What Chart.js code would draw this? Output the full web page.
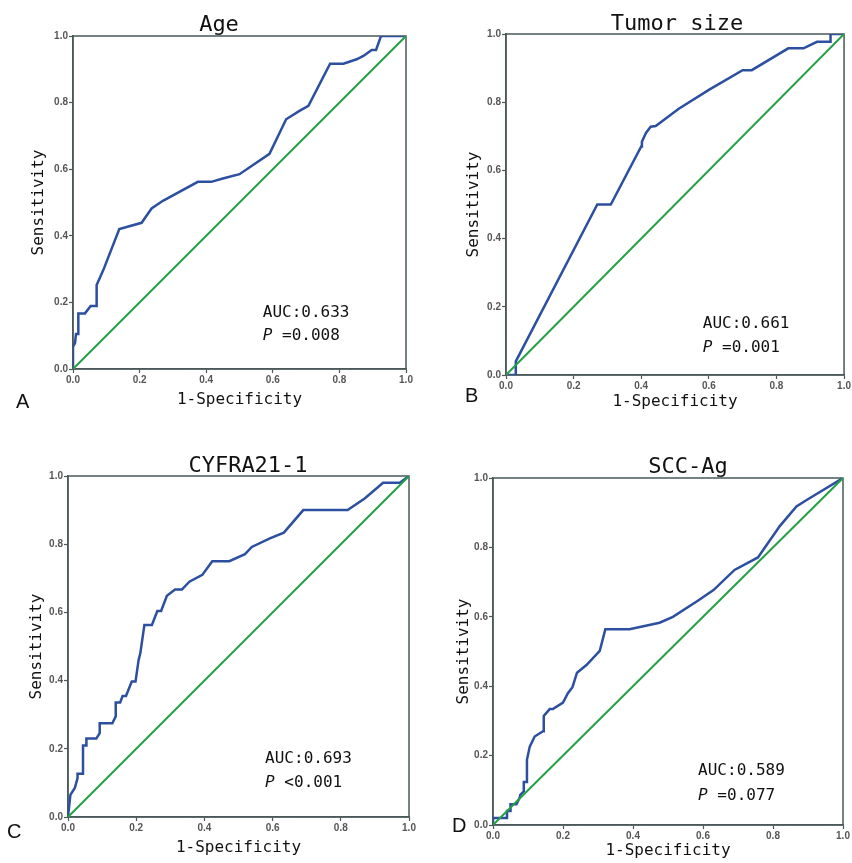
<!DOCTYPE html>
<html>
<head>
<meta charset="utf-8">
<script src="https://cdn.jsdelivr.net/npm/chart.js@4.4.1/dist/chart.umd.min.js"></script>
<style>
  body { margin: 0; background: #fff; }
  #wrap { position: relative; width: 852px; height: 863px; background: #fff; }
  canvas { position: absolute; }
</style>
</head>
<body>
<div id="wrap">
  <canvas id="cA"></canvas>
  <canvas id="cB"></canvas>
  <canvas id="cC"></canvas>
  <canvas id="cD"></canvas>
</div>
<script>
// ROC curves: 1-specificity (x) and sensitivity (y)
const ageFpr = [0, 0, 0.006, 0.009, 0.016, 0.016, 0.036, 0.053, 0.071, 0.071, 0.091, 0.139, 0.206, 0.236, 0.27, 0.375, 0.415, 0.45, 0.50, 0.59, 0.64, 0.68, 0.707, 0.772, 0.812, 0.852, 0.872, 0.897, 0.91, 0.925, 1];
const ageTpr = [0, 0.067, 0.078, 0.105, 0.105, 0.167, 0.167, 0.189, 0.189, 0.252, 0.297, 0.42, 0.439, 0.482, 0.505, 0.562, 0.562, 0.572, 0.585, 0.646, 0.75, 0.775, 0.79, 0.917, 0.917, 0.93, 0.94, 0.958, 0.958, 1, 1];

const tumorFpr = [0, 0.029, 0.029, 0.27, 0.31, 0.40, 0.402, 0.414, 0.428, 0.443, 0.51, 0.60, 0.70, 0.727, 0.835, 0.88, 0.92, 0.96, 0.96, 1];
const tumorTpr = [0, 0, 0.04, 0.50, 0.50, 0.67, 0.684, 0.71, 0.728, 0.73, 0.78, 0.836, 0.894, 0.894, 0.958, 0.958, 0.977, 0.977, 1, 1];

const cyfraFpr = [0, 0.007, 0.02, 0.028, 0.028, 0.044, 0.044, 0.054, 0.054, 0.083, 0.093, 0.093, 0.13, 0.14, 0.14, 0.153, 0.16, 0.17, 0.187, 0.198, 0.207, 0.212, 0.224, 0.246, 0.262, 0.273, 0.29, 0.314, 0.334, 0.356, 0.394, 0.423, 0.473, 0.519, 0.539, 0.592, 0.633, 0.69, 0.82, 0.87, 0.924, 0.973, 1];
const cyfraTpr = [0, 0.065, 0.085, 0.114, 0.127, 0.127, 0.21, 0.21, 0.23, 0.23, 0.246, 0.275, 0.275, 0.295, 0.336, 0.336, 0.355, 0.355, 0.397, 0.397, 0.46, 0.48, 0.563, 0.563, 0.604, 0.604, 0.649, 0.667, 0.667, 0.69, 0.71, 0.75, 0.75, 0.771, 0.792, 0.817, 0.834, 0.9, 0.9, 0.934, 0.98, 0.98, 1];

const sccFpr = [0, 0, 0.04, 0.04, 0.05, 0.05, 0.067, 0.076, 0.078, 0.088, 0.088, 0.097, 0.097, 0.105, 0.119, 0.143, 0.145, 0.162, 0.171, 0.2, 0.214, 0.227, 0.24, 0.267, 0.305, 0.321, 0.39, 0.476, 0.514, 0.583, 0.63, 0.69, 0.757, 0.82, 0.867, 0.895, 1];
const sccTpr = [0, 0.02, 0.02, 0.04, 0.04, 0.06, 0.06, 0.078, 0.087, 0.097, 0.124, 0.124, 0.188, 0.226, 0.255, 0.27, 0.314, 0.334, 0.334, 0.353, 0.38, 0.397, 0.439, 0.461, 0.502, 0.564, 0.564, 0.583, 0.6, 0.645, 0.677, 0.735, 0.771, 0.862, 0.918, 0.936, 1];

const refFpr = [0, 1];
const refTpr = [0, 1];

const titles = ['Age', 'Tumor size', 'CYFRA21-1', 'SCC-Ag'];
const aucLabels = ['AUC:0.633', 'AUC:0.661', 'AUC:0.693', 'AUC:0.589'];
const pLabels = [' =0.008', ' =0.001', ' <0.001', ' =0.077'];
const letters = ['A', 'B', 'C', 'D'];
const tickValues = [0, 0.2, 0.4, 0.6, 0.8, 1.0];

const axisColor = '#4a5858';
const blue = '#2c4fa0';
const green = '#25a046';
const monoFont = '"DejaVu Sans Mono", monospace';

const pts = (xs, ys) => xs.map((x, i) => ({ x: x, y: ys[i] }));

const rocText = {
  id: 'rocText',
  beforeDatasetsDraw(chart) {
    const { ctx, chartArea: a } = chart;
    ctx.save();
    ctx.strokeStyle = axisColor;
    ctx.lineWidth = 1.5;
    ctx.strokeRect(a.left, a.top, a.right - a.left, a.bottom - a.top);
    ctx.restore();
  },
  afterDraw(chart, args, o) {
    const { ctx, scales: { x, y } } = chart;
    ctx.save();
    ctx.fillStyle = '#111';
    ctx.textBaseline = 'alphabetic';
    ctx.textAlign = 'center';
    ctx.font = '22px ' + monoFont;
    ctx.fillText(o.title, o.titleX, o.titleY);

    ctx.textAlign = 'left';
    const tx = x.getPixelForValue(o.textX);
    ctx.font = '16px ' + monoFont;
    ctx.fillText(o.auc, tx, y.getPixelForValue(o.aucY));
    const py = y.getPixelForValue(o.pY);
    ctx.font = 'italic 16px ' + monoFont;
    ctx.fillText('P', tx, py);
    const w = ctx.measureText('P').width;
    ctx.font = '16px ' + monoFont;
    ctx.fillText(o.p, tx + w, py);

    ctx.font = '20px "Liberation Sans", Arial, sans-serif';
    ctx.fillText(o.letter, o.letterX, o.letterY);
    ctx.restore();
  }
};

const panels = [
  { id: 'cA', box: { left: 0, top: 0, w: 426, h: 431 }, plot: { l: 73, t: 36, r: 406, b: 369 }, yTitleX: 38.5, xTitleY: 400,
    fpr: ageFpr, tpr: ageTpr, titleX: 219, titleY: 31, textX: 0.57, aucY: 0.156, pY: 0.087, letterX: 16, letterY: 408 },
  { id: 'cB', box: { left: 426, top: 0, w: 426, h: 431 }, plot: { l: 506, t: 34, r: 846, b: 375 }, yTitleX: 473.5, xTitleY: 402,
    fpr: tumorFpr, tpr: tumorTpr, titleX: 251, titleY: 30, textX: 0.582, aucY: 0.138, pY: 0.067, letterX: 39, letterY: 402 },
  { id: 'cC', box: { left: 0, top: 431, w: 426, h: 432 }, plot: { l: 68, t: 476, r: 409, b: 817 }, yTitleX: 36.5, xTitleY: 848,
    fpr: cyfraFpr, tpr: cyfraTpr, titleX: 248, titleY: 41, textX: 0.578, aucY: 0.158, pY: 0.088, letterX: 7, letterY: 407 },
  { id: 'cD', box: { left: 426, top: 431, w: 426, h: 432 }, plot: { l: 493, t: 478, r: 843, b: 825 }, yTitleX: 463.5, xTitleY: 851,
    fpr: sccFpr, tpr: sccTpr, titleX: 262, titleY: 42, textX: 0.586, aucY: 0.144, pY: 0.072, letterX: 26, letterY: 401 }
];

panels.forEach((p, i) => {
  const cv = document.getElementById(p.id);
  cv.width = p.box.w;
  cv.height = p.box.h;
  cv.style.left = p.box.left + 'px';
  cv.style.top = p.box.top + 'px';

  const half = 16 * 1.2 / 2;
  const padLeft = p.yTitleX - p.box.left - half;
  const yW = p.plot.l - p.box.left - padLeft;
  const padTop = p.plot.t - p.box.top;
  const padRight = p.box.left + p.box.w - p.plot.r;
  const xBottom = p.xTitleY + half;
  const padBottom = p.box.top + p.box.h - xBottom;
  const xH = xBottom - p.plot.b;

  const tickFont = { family: '"Liberation Sans", Arial, sans-serif', size: 10, weight: 'bold' };
  const titleFont = { family: monoFont, size: 16 };

  const axis = (label, fit) => ({
    type: 'linear',
    min: 0,
    max: 1,
    afterBuildTicks: s => { s.ticks = tickValues.map(v => ({ value: v })); },
    ticks: { callback: v => v.toFixed(1), font: tickFont, color: '#555', padding: 1, maxRotation: 0, autoSkip: false },
    grid: { drawOnChartArea: false, drawTicks: true, tickLength: 4, color: axisColor, tickWidth: 1.2 },
    border: { color: axisColor, width: 1.5 },
    title: { display: true, text: label, font: titleFont, color: '#111', padding: 0 },
    afterFit: fit
  });

  new Chart(cv, {
    type: 'scatter',
    data: {
      datasets: [
        { data: pts(refFpr, refTpr), showLine: true, borderColor: green, borderWidth: 2, pointRadius: 0, tension: 0 },
        { data: pts(p.fpr, p.tpr), showLine: true, borderColor: blue, borderWidth: 2.5, pointRadius: 0, tension: 0 }
      ]
    },
    options: {
      responsive: false,
      animation: false,
      devicePixelRatio: 1,
      layout: { padding: { left: padLeft, top: padTop, right: padRight, bottom: padBottom } },
      plugins: {
        legend: { display: false },
        tooltip: { enabled: false },
        rocText: {
          title: titles[i], titleX: p.titleX, titleY: p.titleY,
          auc: aucLabels[i], p: pLabels[i], textX: p.textX, aucY: p.aucY, pY: p.pY,
          letter: letters[i], letterX: p.letterX, letterY: p.letterY
        }
      },
      scales: {
        x: axis('1-Specificity', s => { s.height = xH; }),
        y: axis('Sensitivity', s => { s.width = yW; })
      }
    },
    plugins: [rocText]
  });
});
</script>
</body>
</html>
